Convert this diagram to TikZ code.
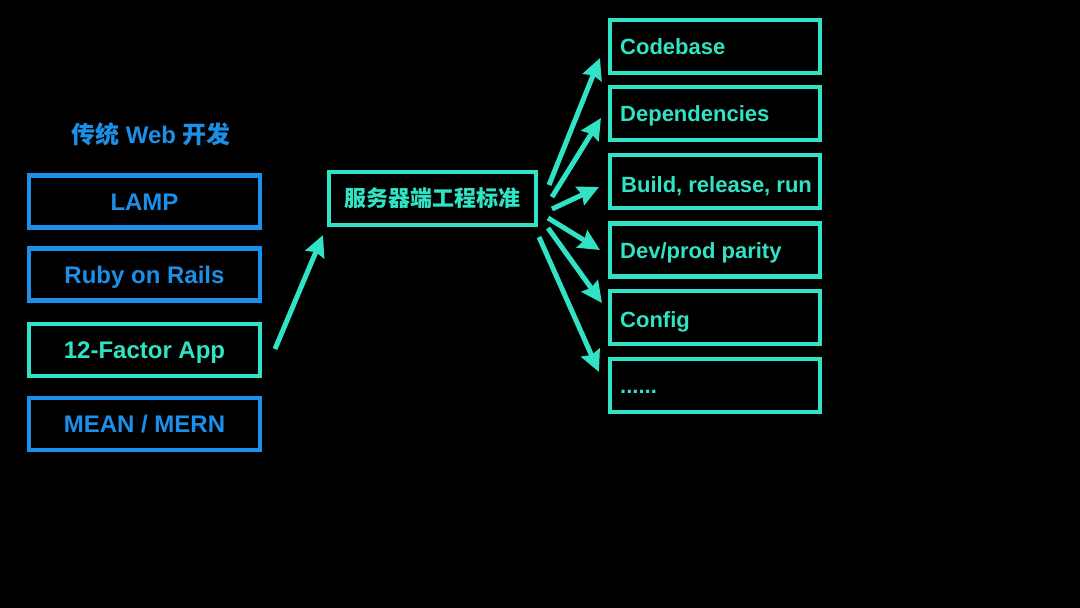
\documentclass[tikz,border=0pt]{standalone}
\usepackage{fontspec}
\setmainfont{Liberation Sans}
\newfontfamily\cjk{Noto Sans CJK SC}
\usetikzlibrary{arrows.meta}
\definecolor{lblue}{RGB}{28,143,232}
\definecolor{teal}{RGB}{50,226,196}
\tikzset{
  box/.style={draw, line width=4.8pt, inner sep=0pt},
  lbox/.style={box, lblue, minimum width=231pt, minimum height=52pt, text height=17.2pt, text depth=0pt, font=\fontsize{24}{26}\selectfont\bfseries},
  rbox/.style={box, teal, minimum width=210pt, minimum height=53pt},
  rtext/.style={anchor=west, inner sep=0pt, text height=15.8pt, text depth=0pt, text=teal, font=\fontsize{22}{24}\selectfont\bfseries},
  arr/.style={teal, line width=5pt, -{Stealth[length=21pt, width=20pt, inset=2.5pt]}},
}
\begin{document}
\begin{tikzpicture}[x=1pt, y=-1pt]
\fill[black] (0,0) rectangle (1080,608);
\useasboundingbox (0,0) rectangle (1080,608);

% left column
\node[text=lblue, font=\fontsize{24}{26}\selectfont\bfseries] (title) at (151,134) {{\cjk 传统} Web {\cjk 开发}};
\node[lbox, text=lblue] (lamp) at (144.5,201.5) {LAMP};
\node[lbox, text=lblue] (ruby) at (144.5,274.5) {Ruby on Rails};
\node[lbox, teal, text=teal] (twelve) at (144.5,350) {12-Factor App};
\node[lbox, text=lblue] (mean) at (144.5,424) {MEAN / MERN};

% middle
\node[box, teal, minimum width=207pt, minimum height=53pt, text=teal, font=\fontsize{22}{24}\selectfont\bfseries] (std) at (432.5,198.5) {\cjk 服务器端工程标准};

% right column
\node[rbox] (cb) at (715,46.5) {};
\node[rbox] (dep) at (715,113.5) {};
\node[rbox] (brr) at (715,181.5) {};
\node[rbox] (dev) at (715,250) {};
\node[rbox] (cfg) at (715,317.5) {};
\node[rbox] (more) at (715,385.5) {};
\node[rtext] (cbt) at (620,46.5) {Codebase};
\node[rtext] (dept) at (620,114) {Dependencies};
\node[rtext] (brrt) at (621,185) {Build, release, run};
\node[rtext] (devt) at (620,250.5) {Dev/prod parity};
\node[rtext] (cfgt) at (620,319.5) {Config};
\node[rtext, anchor=base west] (moret) at (620,393) {......};

% arrow end points
\coordinate (a0s) at (275,349); \coordinate (a0e) at (323,235);
\coordinate (a1s) at (549,185); \coordinate (a1e) at (600,58);
\coordinate (a2s) at (552,197); \coordinate (a2e) at (601,118);
\coordinate (a3s) at (552,209); \coordinate (a3e) at (599,187);
\coordinate (a4s) at (548,218); \coordinate (a4e) at (600,250);
\coordinate (a5s) at (548,228); \coordinate (a5e) at (602,303);
\coordinate (a6s) at (539,237); \coordinate (a6e) at (599,372);

\draw[arr] (a0s) -- (a0e);
\draw[arr] (a1s) -- (a1e);
\draw[arr] (a2s) -- (a2e);
\draw[arr] (a3s) -- (a3e);
\draw[arr] (a4s) -- (a4e);
\draw[arr] (a5s) -- (a5e);
\draw[arr] (a6s) -- (a6e);
\end{tikzpicture}
\end{document}
